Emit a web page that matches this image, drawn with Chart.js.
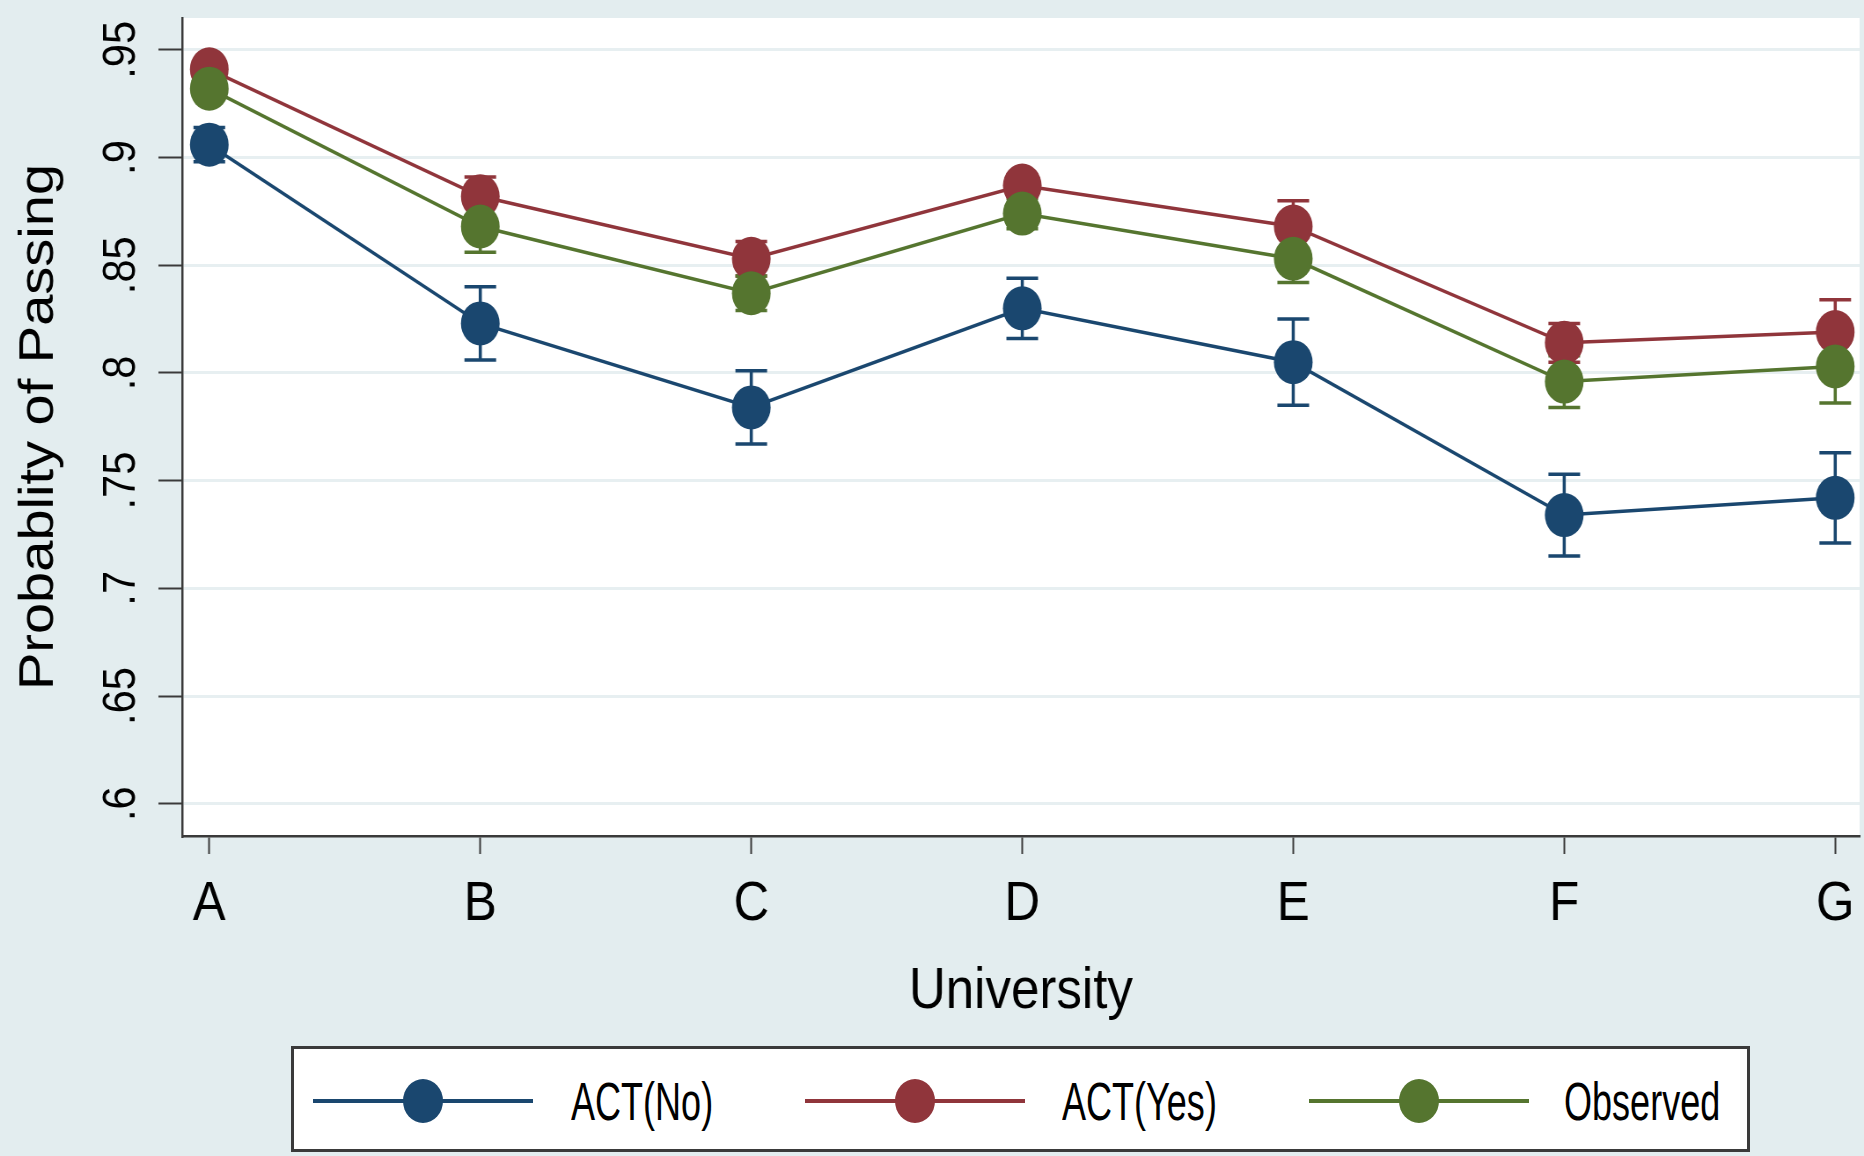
<!DOCTYPE html>
<html>
<head>
<meta charset="utf-8">
<script src="https://cdn.jsdelivr.net/npm/chart.js@4.4.1/dist/chart.umd.min.js"></script>
<style>
  html, body { margin: 0; padding: 0; width: 1864px; height: 1156px; overflow: hidden; background: #e3edef; }
  #wrap { position: absolute; left: 0; top: 0; width: 2118px; height: 1156px; transform: scaleX(0.88008); transform-origin: 0 0; }
  #legend { position: absolute; left: 291px; top: 1046px; width: 1453px; height: 100px; border: 3px solid #3a3a3a; background: #fff; }
  .key-line { position: absolute; height: 4px; }
  .key-dot { position: absolute; width: 40px; height: 44px; border-radius: 50%; }
  .key-text { position: absolute; font: 53px "Liberation Sans", Arial, Helvetica, sans-serif; line-height: 53px; color: #000; white-space: nowrap; transform: scaleX(0.68); transform-origin: 0 50%; }
</style>
</head>
<body>
<div id="wrap"><canvas id="chart" width="2118" height="1156"></canvas></div>
<div id="legend"></div>
<script>
// Universities on the x axis
const categories = ['A', 'B', 'C', 'D', 'E', 'F', 'G'];

// Predicted / observed probability of passing, with half-widths of the intervals
const actNo       = [0.906, 0.823, 0.784, 0.830, 0.805, 0.734, 0.742];
const actNoErr    = [0.008, 0.017, 0.017, 0.014, 0.020, 0.019, 0.021];
const actYes      = [0.941, 0.882, 0.853, 0.887, 0.868, 0.814, 0.819];
const actYesErr   = [0.004, 0.009, 0.008, 0.005, 0.012, 0.009, 0.015];
const observed    = [0.932, 0.868, 0.837, 0.874, 0.853, 0.796, 0.803];
const observedErr = [0.004, 0.012, 0.008, 0.007, 0.011, 0.012, 0.017];

const seriesNames  = ['ACT(No)', 'ACT(Yes)', 'Observed'];
const seriesColors = ['#1a476f', '#90353b', '#55752f'];

// y axis ticks and their labels
const yTickValues = [0.6, 0.65, 0.7, 0.75, 0.8, 0.85, 0.9, 0.95];
const yTickLabels = ['.6', '.65', '.7', '.75', '.8', '.85', '.9', '.95'];

const yTitle = 'Probablity of Passing';
const xTitle = 'University';

const FONT = '"Liberation Sans", Arial, Helvetica, sans-serif';
const AXIS = '#3a3a3a';

const toPoints = vals => vals.map((v, i) => ({ x: i, y: v }));
const seriesValues = [actNo, actYes, observed];
const seriesErrors = [actNoErr, actYesErr, observedErr];

const datasets = seriesNames.map((name, k) => ({
  label: name,
  data: toPoints(seriesValues[k]),
  err: seriesErrors[k],
  borderColor: seriesColors[k],
  backgroundColor: seriesColors[k],
  pointBackgroundColor: seriesColors[k],
  pointBorderWidth: 0,
  pointRadius: 22,
  pointHoverRadius: 22,
  borderWidth: 3.5,
  tension: 0,
  clip: false,
  order: 3 - k
}));

// white plot region
const plotBackground = {
  id: 'plotBackground',
  beforeDraw(chart) {
    const { ctx, chartArea: a } = chart;
    ctx.save();
    ctx.fillStyle = '#ffffff';
    ctx.fillRect(a.left, a.top, a.right - a.left, a.bottom - a.top);
    ctx.restore();
  }
};

// capped interval bars behind the markers
const errorBars = {
  id: 'errorBars',
  beforeDatasetsDraw(chart) {
    const { ctx, scales: { x, y } } = chart;
    chart.data.datasets.forEach(ds => {
      ctx.save();
      ctx.strokeStyle = ds.borderColor;
      ctx.lineWidth = 3.5;
      ds.data.forEach((p, i) => {
        const px = x.getPixelForValue(p.x);
        const top = y.getPixelForValue(p.y + ds.err[i]);
        const bot = y.getPixelForValue(p.y - ds.err[i]);
        const cap = 18;
        ctx.beginPath();
        ctx.moveTo(px, top); ctx.lineTo(px, bot);
        ctx.moveTo(px - cap, top); ctx.lineTo(px + cap, top);
        ctx.moveTo(px - cap, bot); ctx.lineTo(px + cap, bot);
        ctx.stroke();
      });
      ctx.restore();
    });
  }
};

// tick labels (x upright, y reading bottom to top) and the two axis titles
const axisText = {
  id: 'axisText',
  afterDraw(chart) {
    const { ctx, chartArea: a, scales: { x, y } } = chart;
    ctx.save();
    ctx.fillStyle = '#000';
    ctx.textBaseline = 'alphabetic';
    ctx.textAlign = 'center';

    // x tick labels
    ctx.font = '56px ' + FONT;
    x.ticks.forEach(t => {
      const label = categories[Math.round(t.value)];
      if (label === undefined) return;
      ctx.fillText(label, x.getPixelForValue(t.value), 920);
    });

    // y tick labels
    ctx.font = '52px ' + FONT;
    y.ticks.forEach(t => {
      const idx = yTickValues.findIndex(v => Math.abs(v - t.value) < 1e-9);
      if (idx < 0) return;
      const py = y.getPixelForValue(t.value);
      ctx.save();
      ctx.translate(153, py);
      ctx.rotate(-Math.PI / 2);
      ctx.scale(0.8, 1);
      ctx.fillText(yTickLabels[idx], 0, 0);
      ctx.restore();
    });

    // y axis title
    ctx.font = '56px ' + FONT;
    ctx.save();
    ctx.translate(60, (a.top + a.bottom) / 2);
    ctx.rotate(-Math.PI / 2);
    ctx.fillText(yTitle, 0, 0);
    ctx.restore();

    // x axis title
    ctx.font = '58px ' + FONT;
    ctx.fillText(xTitle, (a.left + a.right) / 2, 1008);
    ctx.restore();
  }
};

new Chart(document.getElementById('chart'), {
  type: 'line',
  data: { datasets },
  options: {
    responsive: false,
    animation: false,
    devicePixelRatio: 1,
    layout: { autoPadding: false, padding: { left: 0, top: 18, right: 5, bottom: 0 } },
    plugins: { legend: { display: false }, tooltip: { enabled: false } },
    scales: {
      x: {
        type: 'linear',
        min: -0.1,
        max: 6.09,
        afterBuildTicks: s => { s.ticks = categories.map((c, i) => ({ value: i })); },
        afterFit: s => { s.height = 320; },
        ticks: { display: false },
        grid: { drawOnChartArea: false, tickLength: 18, tickColor: AXIS, tickWidth: 2 },
        border: { color: AXIS, width: 2.5 }
      },
      y: {
        min: 0.585,
        max: 0.9648,
        afterBuildTicks: s => { s.ticks = yTickValues.map(v => ({ value: v })); },
        afterFit: s => { s.width = 207; },
        ticks: { display: false },
        grid: { color: '#e7eff1', lineWidth: 3, tickLength: 27, tickColor: AXIS, tickWidth: 2 },
        border: { color: AXIS, width: 2.5 }
      }
    }
  },
  plugins: [plotBackground, errorBars, axisText]
});

// legend: key line with marker, then series name
const legend = document.getElementById('legend');
const boxLeft = 294, boxTop = 1049;
const keyLineStart = [313, 805, 1309];
const keyTextLeft = [571, 1062, 1564];
const keyCenterY = 1101;
seriesNames.forEach((name, k) => {
  const line = document.createElement('div');
  line.className = 'key-line';
  line.style.left = (keyLineStart[k] - boxLeft) + 'px';
  line.style.width = '220px';
  line.style.top = (keyCenterY - boxTop - 2) + 'px';
  line.style.background = seriesColors[k];
  legend.appendChild(line);

  const dot = document.createElement('div');
  dot.className = 'key-dot';
  dot.style.left = (keyLineStart[k] + 110 - 20 - boxLeft) + 'px';
  dot.style.top = (keyCenterY - 22 - boxTop) + 'px';
  dot.style.background = seriesColors[k];
  legend.appendChild(dot);

  const txt = document.createElement('span');
  txt.className = 'key-text';
  txt.textContent = name;
  txt.style.left = (keyTextLeft[k] - boxLeft) + 'px';
  txt.style.top = (keyCenterY - 26.5 - boxTop) + 'px';
  legend.appendChild(txt);
});
</script>
</body>
</html>
